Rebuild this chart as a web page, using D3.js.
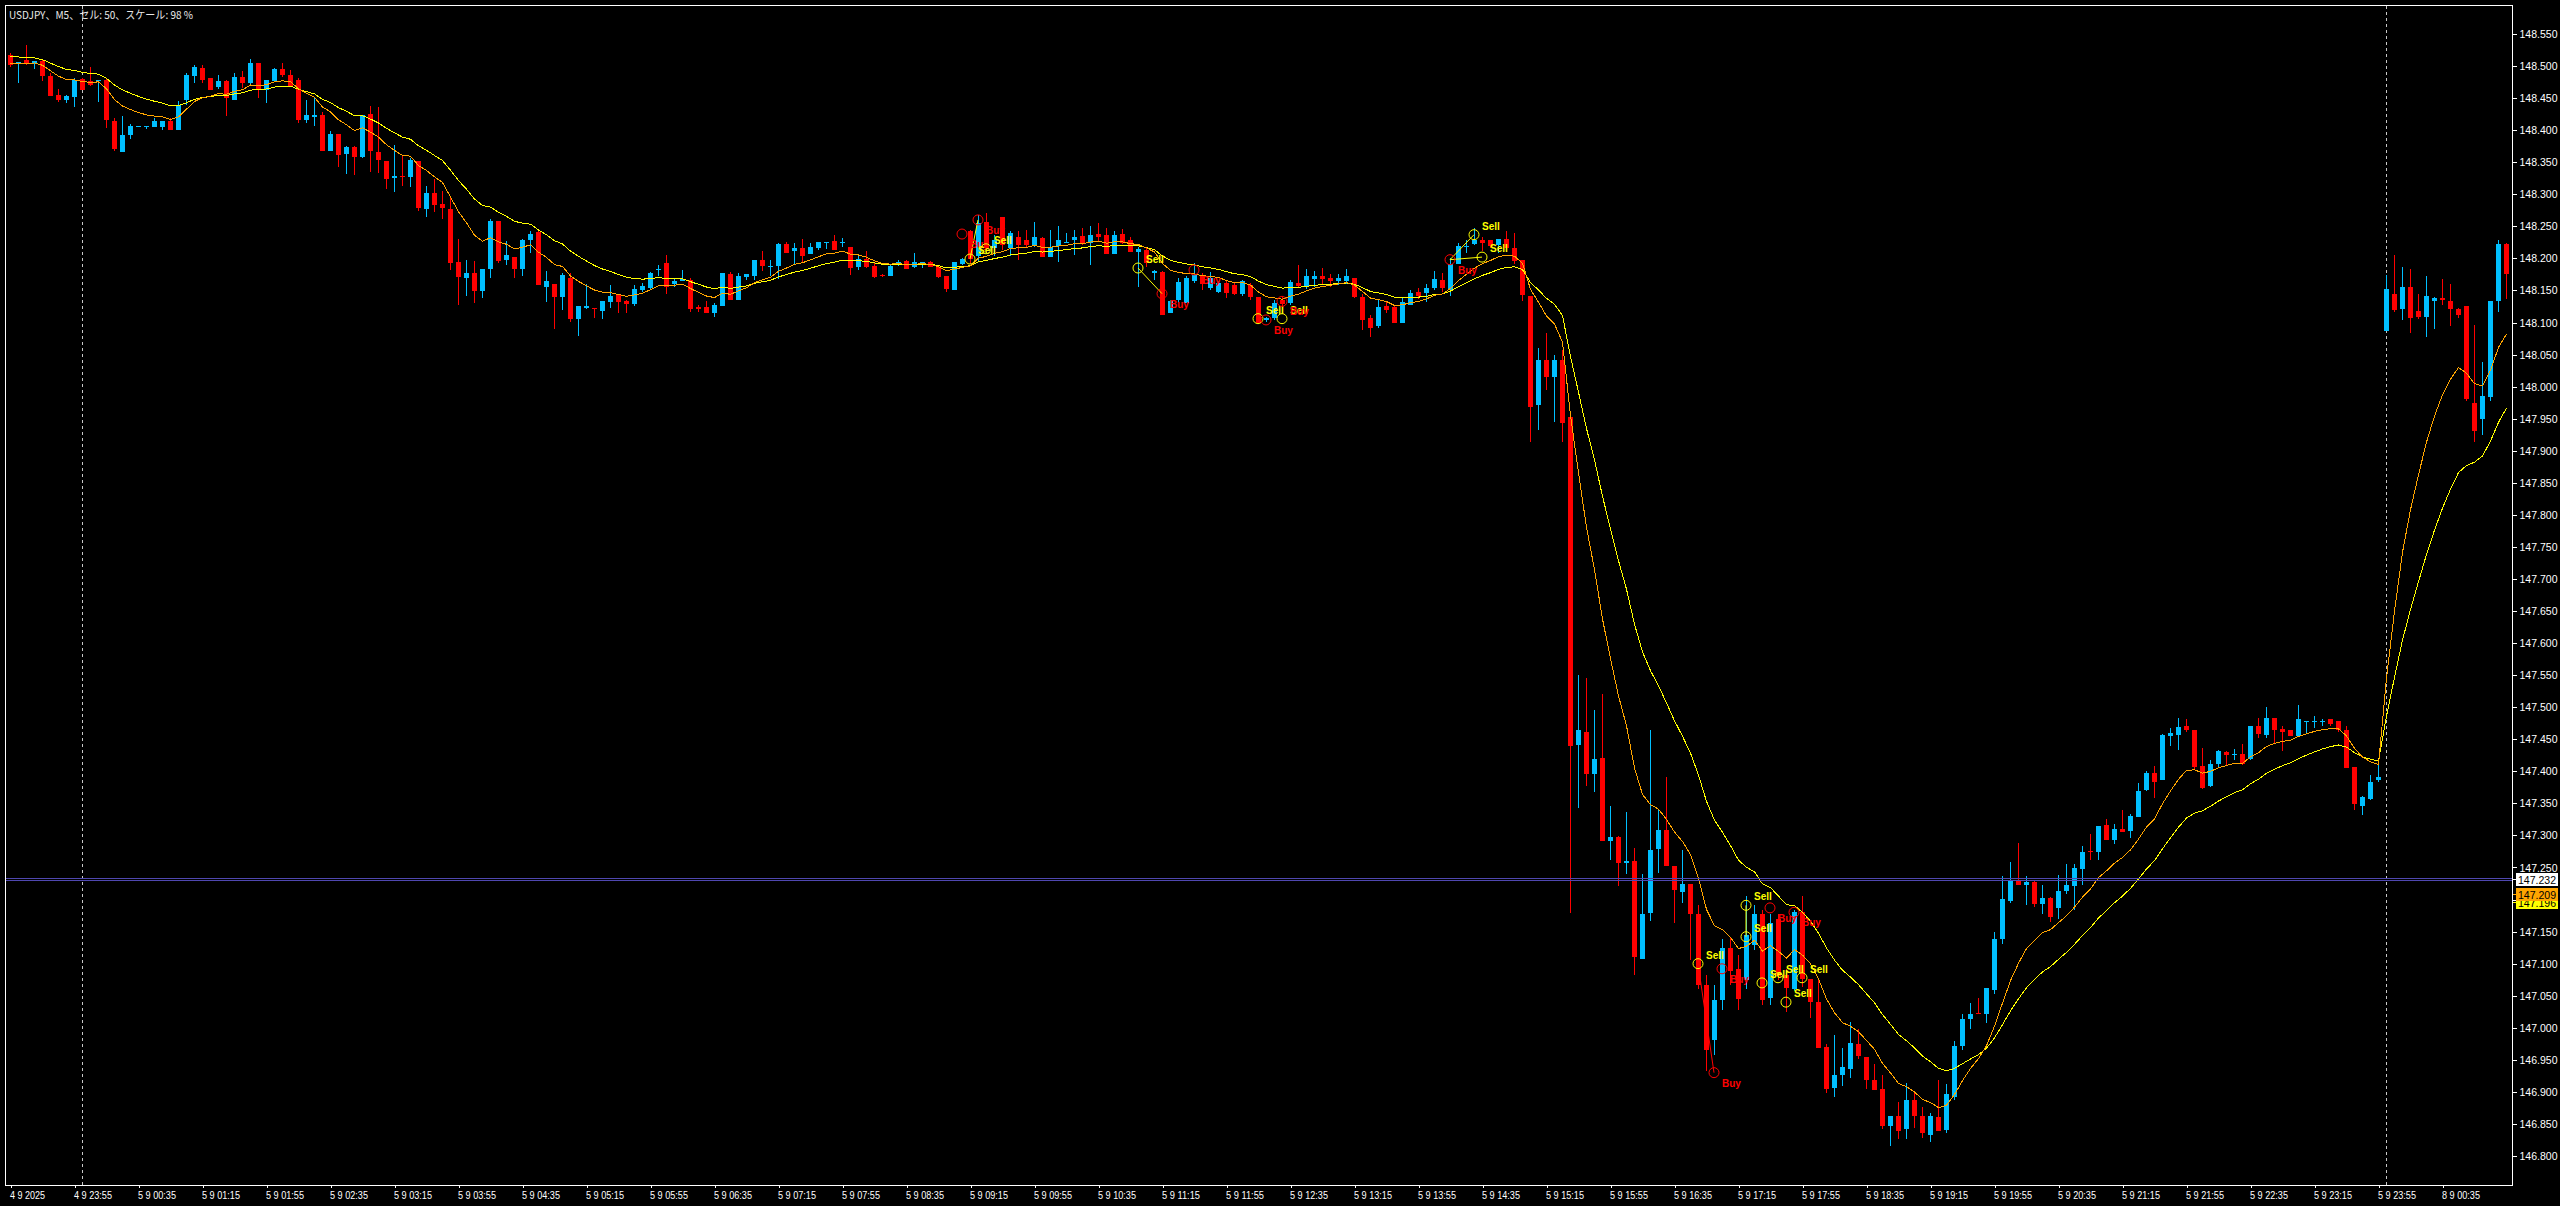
<!DOCTYPE html>
<html><head><meta charset="utf-8">
<script src="https://cdn.jsdelivr.net/npm/d3@7"></script>
<style>html,body{margin:0;padding:0;background:#000;overflow:hidden}</style>
</head><body>
<svg id="c" width="2560" height="1206"></svg>
<script>
// ---------- DATA (USDJPY M5) ----------
const title = "USDJPY、M5、セル: 50、スケール: 98 %";
const open = [148.517,148.505,148.509,148.503,148.508,148.485,148.455,148.447,148.452,148.480,148.477,148.476,148.479,148.415,148.367,148.393,148.405,148.405,148.405,148.404,148.414,148.400,148.447,148.485,148.497,148.482,148.467,148.476,148.447,148.483,148.473,148.504,148.462,148.476,148.495,148.486,148.478,148.416,148.421,148.424,148.368,148.394,148.363,148.374,148.357,148.425,148.366,148.352,148.325,148.328,148.328,148.352,148.277,148.302,148.285,148.277,148.194,148.170,148.177,148.149,148.183,148.258,148.197,148.202,148.184,148.228,148.241,148.156,148.160,148.140,148.170,148.106,148.123,148.123,148.118,148.133,148.144,148.133,148.129,148.151,148.154,148.182,148.193,148.160,148.165,148.166,148.124,148.124,148.115,148.126,148.176,148.135,148.172,148.173,148.197,148.187,148.187,148.222,148.212,148.217,148.207,148.215,148.224,148.227,148.225,148.218,148.187,148.199,148.188,148.174,148.173,148.190,148.196,148.186,148.193,148.195,148.186,148.173,148.151,148.191,148.242,148.203,148.257,148.216,148.264,148.216,148.234,148.229,148.221,148.232,148.203,148.218,148.225,148.229,148.235,148.224,148.238,148.237,148.208,148.238,148.229,148.211,148.213,148.178,148.179,148.115,148.135,148.130,148.164,148.172,148.153,148.147,148.161,148.159,148.143,148.158,148.140,148.104,148.107,148.135,148.131,148.162,148.156,148.168,148.173,148.170,148.166,148.164,148.170,148.140,148.107,148.094,148.126,148.124,148.100,148.128,148.148,148.146,148.154,148.166,148.152,148.192,148.218,148.221,148.228,148.228,148.220,148.230,148.216,148.197,148.142,147.971,148.041,148.014,148.041,147.953,147.440,147.462,147.396,147.420,147.291,147.297,147.257,147.260,147.108,147.178,147.279,147.309,147.253,147.213,147.225,147.177,147.067,146.982,147.044,147.124,147.091,147.075,147.130,147.178,147.047,147.169,147.083,147.060,147.180,147.076,147.040,146.970,146.905,146.927,146.937,146.974,146.955,146.919,146.904,146.846,146.863,146.841,146.887,146.862,146.834,146.861,146.840,146.892,146.972,147.014,147.023,147.022,147.060,147.138,147.199,147.231,147.223,147.228,147.194,147.203,147.187,147.213,147.221,147.247,147.275,147.273,147.317,147.293,147.310,147.308,147.330,147.370,147.397,147.386,147.455,147.456,147.471,147.465,147.409,147.377,147.410,147.430,147.425,147.427,147.418,147.470,147.456,147.483,147.466,147.465,147.455,147.476,147.476,147.476,147.481,147.479,147.465,147.406,147.346,147.357,147.386,148.087,148.145,148.120,148.155,148.118,148.109,148.134,148.139,148.134,148.121,148.126,147.975,147.950,147.985,148.134,148.223];
const high = [148.520,148.506,148.533,148.508,148.511,148.489,148.464,148.455,148.481,148.481,148.499,148.478,148.481,148.419,148.422,148.410,148.407,148.407,148.419,148.414,148.419,148.446,148.489,148.502,148.502,148.482,148.486,148.478,148.489,148.492,148.511,148.504,148.478,148.497,148.504,148.494,148.482,148.447,148.452,148.428,148.398,148.394,148.375,148.375,148.424,148.438,148.436,148.352,148.377,148.361,148.356,148.352,148.313,148.324,148.305,148.296,148.230,148.198,148.196,148.184,148.261,148.258,148.227,148.202,148.230,148.243,148.242,148.180,148.160,148.177,148.177,148.126,148.160,148.123,148.134,148.159,148.144,148.135,148.159,148.162,148.179,148.189,148.205,148.169,148.182,148.169,148.128,148.133,148.130,148.177,148.179,148.178,148.176,148.198,148.211,148.197,148.224,148.225,148.224,148.230,148.224,148.225,148.226,148.237,148.232,148.218,148.203,148.211,148.195,148.176,148.190,148.198,148.198,148.208,148.194,148.196,148.190,148.173,148.195,148.200,148.244,148.268,148.271,148.237,148.264,148.242,148.242,148.244,148.257,148.234,148.244,148.250,148.239,148.244,148.247,148.251,148.255,148.247,148.242,148.246,148.234,148.218,148.216,148.182,148.181,148.135,148.170,148.172,148.193,148.177,148.179,148.164,148.166,148.161,148.166,148.162,148.140,148.109,148.135,148.140,148.166,148.189,148.184,148.180,148.185,148.176,148.176,148.184,148.170,148.144,148.112,148.136,148.132,148.128,148.140,148.150,148.154,148.160,148.181,148.177,148.200,148.224,148.228,148.247,148.234,148.229,148.230,148.242,148.239,148.197,148.142,148.060,148.083,148.049,148.057,147.957,147.550,147.545,147.496,147.520,147.346,147.299,147.337,147.281,147.240,147.464,147.341,147.391,147.253,147.277,147.225,147.192,147.083,147.067,147.138,147.141,147.114,147.205,147.192,147.184,147.177,147.177,147.091,147.184,147.205,147.076,147.075,146.974,146.988,146.968,147.009,146.998,146.955,146.944,146.926,146.862,146.885,146.914,146.899,146.877,146.867,146.918,146.913,146.979,147.021,147.038,147.047,147.062,147.149,147.237,147.259,147.288,147.237,147.230,147.223,147.204,147.239,147.256,147.255,147.284,147.303,147.315,147.325,147.318,147.339,147.334,147.382,147.400,147.409,147.458,147.468,147.483,147.482,147.465,147.436,147.418,147.433,147.431,147.435,147.443,147.470,147.483,147.500,147.483,147.471,147.465,147.504,147.478,147.487,147.482,147.481,147.479,147.471,147.406,147.362,147.395,147.412,148.174,148.205,148.187,148.184,148.145,148.173,148.140,148.168,148.160,148.123,148.126,148.096,148.038,148.134,148.229,148.224];
const low = [148.498,148.474,148.502,148.495,148.476,148.453,148.444,148.442,148.436,148.463,148.469,148.444,148.404,148.367,148.367,148.386,148.405,148.402,148.405,148.401,148.400,148.400,148.439,148.473,148.473,148.464,148.464,148.422,148.447,148.465,148.470,148.450,148.443,148.476,148.483,148.467,148.411,148.411,148.407,148.367,148.367,148.343,148.332,148.330,148.357,148.334,148.333,148.308,148.303,148.313,148.312,148.274,148.264,148.273,148.261,148.182,148.128,148.142,148.131,148.138,148.170,148.193,148.190,148.170,148.172,148.209,148.158,148.132,148.090,148.119,148.101,148.079,148.121,148.107,148.106,148.122,148.115,148.115,148.126,148.148,148.152,148.172,148.145,148.156,148.164,148.117,148.117,148.115,148.109,148.125,148.136,148.135,148.166,148.166,148.181,148.172,148.168,148.208,148.191,148.195,148.207,148.213,148.215,148.213,148.218,148.174,148.182,148.185,148.169,148.171,148.173,148.188,148.184,148.185,148.185,148.186,148.170,148.147,148.150,148.190,148.191,148.195,148.211,148.203,148.213,148.203,148.198,148.218,148.218,148.203,148.203,148.195,148.224,148.205,148.221,148.190,148.226,148.207,148.207,148.223,148.210,148.156,148.187,148.166,148.112,148.115,148.131,148.130,148.161,148.151,148.151,148.146,148.138,148.143,148.142,148.135,148.098,148.101,148.104,148.123,148.128,148.156,148.152,148.156,148.160,148.156,148.158,148.160,148.138,148.088,148.078,148.092,148.115,148.099,148.099,148.128,148.136,148.132,148.150,148.148,148.142,148.192,148.208,148.221,148.212,148.216,148.208,148.216,148.192,148.134,147.913,147.932,147.995,147.945,147.913,147.179,147.343,147.377,147.367,147.291,147.261,147.221,147.240,147.082,147.108,147.166,147.241,147.253,147.164,147.194,147.106,147.060,146.932,146.958,147.028,147.067,147.028,147.060,147.122,147.036,147.036,147.075,147.024,147.057,147.064,147.016,146.969,146.899,146.892,146.909,146.921,146.952,146.905,146.904,146.842,146.815,146.826,146.827,146.844,146.828,146.822,146.839,146.836,146.888,146.965,146.998,147.021,147.008,147.052,147.130,147.194,147.223,147.192,147.189,147.177,147.165,147.170,147.209,147.183,147.223,147.261,147.262,147.293,147.286,147.306,147.296,147.330,147.370,147.359,147.386,147.440,147.433,147.462,147.404,147.373,147.376,147.407,147.410,147.417,147.410,147.417,147.452,147.452,147.444,147.431,147.455,147.455,147.460,147.468,147.470,147.471,147.462,147.405,147.339,147.332,147.355,147.383,148.086,148.116,148.104,148.084,148.106,148.078,148.090,148.128,148.094,148.107,147.977,147.913,147.925,147.978,148.117,148.137];
const close = [148.502,148.506,148.503,148.508,148.485,148.454,148.447,148.453,148.478,148.463,148.470,148.478,148.417,148.371,148.393,148.407,148.407,148.407,148.414,148.414,148.400,148.439,148.486,148.499,148.478,148.464,148.476,148.449,148.483,148.473,148.504,148.464,148.478,148.495,148.485,148.469,148.416,148.424,148.424,148.368,148.394,148.361,148.374,148.358,148.423,148.367,148.354,148.324,148.328,148.326,148.354,148.279,148.302,148.283,148.279,148.193,148.170,148.178,148.149,148.184,148.258,148.196,148.205,148.183,148.229,148.238,148.158,148.165,148.140,148.174,148.106,148.126,148.126,148.121,148.133,148.142,148.131,148.129,148.152,148.157,148.177,148.184,148.156,148.164,148.168,148.121,148.121,148.115,148.128,148.177,148.136,148.173,148.176,148.198,148.187,148.188,148.222,148.208,148.217,148.204,148.218,148.225,148.226,148.213,148.226,148.186,148.199,148.186,148.171,148.172,148.188,148.195,148.184,148.194,148.194,148.187,148.170,148.152,148.195,148.199,148.198,148.255,148.216,148.229,148.221,148.239,148.221,148.221,148.234,148.203,148.218,148.228,148.226,148.233,148.224,148.237,148.234,148.208,148.237,148.224,148.211,148.215,148.193,148.181,148.112,148.133,148.163,148.169,148.174,148.159,148.169,148.161,148.145,148.145,148.164,148.140,148.099,148.107,148.130,148.128,148.163,148.158,148.172,148.173,148.168,148.166,148.170,148.172,148.140,148.104,148.092,148.124,148.120,148.099,148.132,148.146,148.142,148.154,148.168,148.154,148.192,148.220,148.220,148.228,148.224,148.218,148.230,148.216,148.196,148.142,147.969,148.041,148.014,148.041,147.943,147.440,147.464,147.396,147.419,147.291,147.297,147.257,147.260,147.110,147.178,147.277,147.309,147.253,147.216,147.225,147.178,147.067,146.966,147.044,147.125,147.088,147.044,147.145,147.178,147.044,147.164,147.080,147.063,147.180,147.075,147.040,146.969,146.905,146.926,146.939,146.977,146.955,146.919,146.904,146.846,146.862,146.839,146.887,146.862,146.835,146.863,146.839,146.896,146.972,147.014,147.022,147.022,147.062,147.139,147.201,147.231,147.223,147.227,147.194,147.203,147.173,147.214,147.222,147.249,147.274,147.273,147.314,147.293,147.310,147.306,147.331,147.370,147.397,147.383,147.456,147.459,147.469,147.464,147.407,147.374,147.412,147.431,147.425,147.427,147.412,147.470,147.457,147.483,147.464,147.462,147.456,147.481,147.478,147.478,147.478,147.473,147.465,147.406,147.348,147.360,147.383,147.391,148.152,148.120,148.155,148.106,148.108,148.142,148.138,148.136,148.121,148.112,147.981,147.931,147.986,148.134,148.223,148.176];

// time-axis labels (one every 8 bars, first label shows the date)
const timeLabels = ["4 9 2025","4 9 23:55","5 9 00:35","5 9 01:15","5 9 01:55","5 9 02:35","5 9 03:15","5 9 03:55","5 9 04:35","5 9 05:15","5 9 05:55","5 9 06:35","5 9 07:15","5 9 07:55","5 9 08:35","5 9 09:15","5 9 09:55","5 9 10:35","5 9 11:15","5 9 11:55","5 9 12:35","5 9 13:15","5 9 13:55","5 9 14:35","5 9 15:15","5 9 15:55","5 9 16:35","5 9 17:15","5 9 17:55","5 9 18:35","5 9 19:15","5 9 19:55","5 9 20:35","5 9 21:15","5 9 21:55","5 9 22:35","5 9 23:15","5 9 23:55","8 9 00:35"];
const priceTicks = ["146.800","146.850","146.900","146.950","147.000","147.050","147.100","147.150","147.200","147.250","147.300","147.350","147.400","147.450","147.500","147.550","147.600","147.650","147.700","147.750","147.800","147.850","147.900","147.950","148.000","148.050","148.100","148.150","148.200","148.250","148.300","148.350","148.400","148.450","148.500","148.550"];
const daySeparatorBars = [9, 297];
const hLineLevel = 147.232;
const axisLabels = [ {v:147.196, bg:"#ffff00"}, {v:147.209, bg:"#ffa500"}, {v:147.232, bg:"#ffffff"} ];
const maPeriods = [10, 20];           // orange, yellow (EMA)
const maStart = [148.504, 148.515];   // values read at the first bar
// trade history markers
const markerBar   = [119,121,120,122,141,144,148,156,157,159,159,180,183,184,211,213,214,217,220,217,219,221,223,224,222];
const markerPrice = [148.238,148.260,148.199,148.215,148.185,148.145,148.182,148.106,148.104,148.106,148.133,148.198,148.237,148.202,147.100,146.930,147.092,147.191,147.187,147.142,147.070,147.078,147.180,147.078,147.040];
const markerType  = ["B","B","S","S","S","B","B","S","B","S","B","B","S","S","S","B","B","S","B","S","S","S","B","S","S"];
const markerLinks = [[4,5],[11,12],[11,13],[14,15],[17,19],[2,1]];

// ---------- DRAW ----------
const W = 2560, H = 1206;
const L = 5.5, T = 5.5, R = 2512.5, B = 1185.5;
const svg = d3.select("#c");
const x = d3.scaleLinear().domain([0, 312]).range([10, 2506]);
const y = d3.scaleLinear().domain([146.8, 148.55]).range([1156, 34]);
const BULL = "#00bfff", BEAR = "#ff0000";

svg.append("rect").attr("width", W).attr("height", H).attr("fill", "#000");

svg.append("defs").append("clipPath").attr("id","pc")
  .append("rect").attr("x", L).attr("y", T).attr("width", R - L).attr("height", B - T);
const plot = svg.append("g").attr("clip-path", "url(#pc)");

// day separators
plot.selectAll("line.sep").data(daySeparatorBars).enter().append("line")
  .attr("x1", d => x(d) + 0.5).attr("x2", d => x(d) + 0.5)
  .attr("y1", T).attr("y2", B)
  .attr("stroke", "#c8c8c8").attr("stroke-width", 1).attr("stroke-dasharray", "3,3")
  .attr("shape-rendering", "crispEdges");

// horizontal level line
const hy = Math.round(y(hLineLevel));
[hy - 0.5, hy + 1.5].forEach(yy => {
  svg.append("line").attr("x1", L).attr("x2", R).attr("y1", yy).attr("y2", yy)
    .attr("stroke", "#4f47b0").attr("stroke-width", 1).attr("shape-rendering", "crispEdges");
});

// candles
const bars = d3.range(open.length);
const cg = plot.append("g").attr("shape-rendering", "crispEdges");
cg.selectAll("line.w").data(bars).enter().append("line")
  .attr("x1", i => Math.round(x(i)) + 0.5).attr("x2", i => Math.round(x(i)) + 0.5)
  .attr("y1", i => y(high[i])).attr("y2", i => y(low[i]))
  .attr("stroke", i => close[i] >= open[i] ? BULL : BEAR).attr("stroke-width", 1);
cg.selectAll("rect.b").data(bars).enter().append("rect")
  .attr("x", i => Math.round(x(i)) - 2).attr("width", 5)
  .attr("y", i => Math.round(Math.min(y(open[i]), y(close[i]))))
  .attr("height", i => Math.max(1, Math.round(Math.abs(y(open[i]) - y(close[i])))))
  .attr("fill", i => close[i] >= open[i] ? BULL : BEAR);

// moving averages (exponential, on closes)
function ema(vals, n, start) {
  const a = 2 / (n + 1); const out = [start];
  for (let i = 1; i < vals.length; i++) out.push(out[i - 1] + a * (vals[i] - out[i - 1]));
  return out;
}
const maColors = ["#ffa500", "#ffff00"];
const lineGen = d3.line().x((d, i) => x(i) + 0.5).y(d => y(d));
[1, 0].forEach(k => {
  plot.append("path").datum(ema(close, maPeriods[k], maStart[k]))
    .attr("d", lineGen).attr("fill", "none").attr("stroke", maColors[k]).attr("stroke-width", 1)
    .attr("shape-rendering", "crispEdges");
});

// trade markers
const mg = plot.append("g");
markerLinks.forEach(([a, b]) => {
  mg.append("line").attr("x1", x(markerBar[a])).attr("y1", y(markerPrice[a]))
    .attr("x2", x(markerBar[b])).attr("y2", y(markerPrice[b]))
    .attr("stroke", a === 14 ? "#ff0000" : "#ffff00").attr("stroke-width", 1);
});
markerBar.forEach((b, k) => {
  const isS = markerType[k] === "S";
  const cx = x(b), cy = y(markerPrice[k]);
  mg.append("circle").attr("cx", cx).attr("cy", cy).attr("r", 5)
    .attr("fill", "none").attr("stroke", isS ? "#ffff00" : "#ff0000").attr("stroke-width", 1);
  mg.append("text").attr("x", cx + 8).attr("y", isS ? cy - 5 : cy + 14)
    .attr("fill", isS ? "#ffff00" : "#ff0000")
    .attr("font-family", "Liberation Sans, Arial, sans-serif").attr("font-size", 10).attr("font-weight", "bold")
    .text(isS ? "Sell" : "Buy");
});

// frame
svg.append("rect").attr("x", L).attr("y", T).attr("width", R - L).attr("height", B - T)
  .attr("fill", "none").attr("stroke", "#ffffff").attr("stroke-width", 1);

// price axis
const yAxis = d3.axisRight(y).tickValues(priceTicks.map(Number)).tickSize(4).tickPadding(3)
  .tickFormat((d, i) => priceTicks[i]);
const ya = svg.append("g").attr("transform", `translate(${R},0)`).call(yAxis);
ya.select(".domain").remove();
ya.selectAll(".tick line").attr("stroke", "#fff").attr("shape-rendering", "crispEdges");
ya.selectAll(".tick text").attr("fill", "#fff").attr("font-family", "Liberation Sans, Arial, sans-serif")
  .attr("font-size", 11).attr("textLength", 38).attr("lengthAdjust", "spacingAndGlyphs");

// time axis
const tickBars = timeLabels.map((t, k) => k * 8);
const xAxis = d3.axisBottom(x).tickValues(tickBars).tickSize(3).tickPadding(3)
  .tickFormat((d, i) => timeLabels[i]);
const xa = svg.append("g").attr("transform", `translate(0.5,${B - 0.5})`).call(xAxis);
xa.select(".domain").remove();
xa.selectAll(".tick line").attr("stroke", "#fff").attr("shape-rendering", "crispEdges");
xa.selectAll(".tick text").attr("fill", "#fff").attr("text-anchor", "start").attr("x", -1)
  .attr("font-family", "Liberation Sans, Arial, sans-serif").attr("font-size", 11)
  .attr("textLength", (d, i) => i === 0 ? 35 : 38).attr("lengthAdjust", "spacingAndGlyphs");

// right-side value labels
axisLabels.forEach(lb => {
  const cy = Math.round(y(lb.v));
  svg.append("line").attr("x1", R).attr("x2", R + 5).attr("y1", cy + 0.5).attr("y2", cy + 0.5)
    .attr("stroke", lb.bg).attr("shape-rendering", "crispEdges");
  svg.append("rect").attr("x", 2516).attr("y", cy - 6).attr("width", 42).attr("height", 13).attr("fill", lb.bg);
  svg.append("text").attr("x", 2518).attr("y", cy + 4.5).attr("fill", "#000")
    .attr("font-family", "Liberation Sans, Arial, sans-serif").attr("font-size", 11)
    .attr("textLength", 38).attr("lengthAdjust", "spacingAndGlyphs").text(lb.v.toFixed(3));
});

// title
svg.append("text").attr("x", 9).attr("y", 19).attr("fill", "#e8e8e8")
  .attr("font-family", "Noto Sans CJK JP, sans-serif").attr("font-size", 11)
  .attr("textLength", 184).attr("lengthAdjust", "spacingAndGlyphs").text(title);
</script>
</body></html>
